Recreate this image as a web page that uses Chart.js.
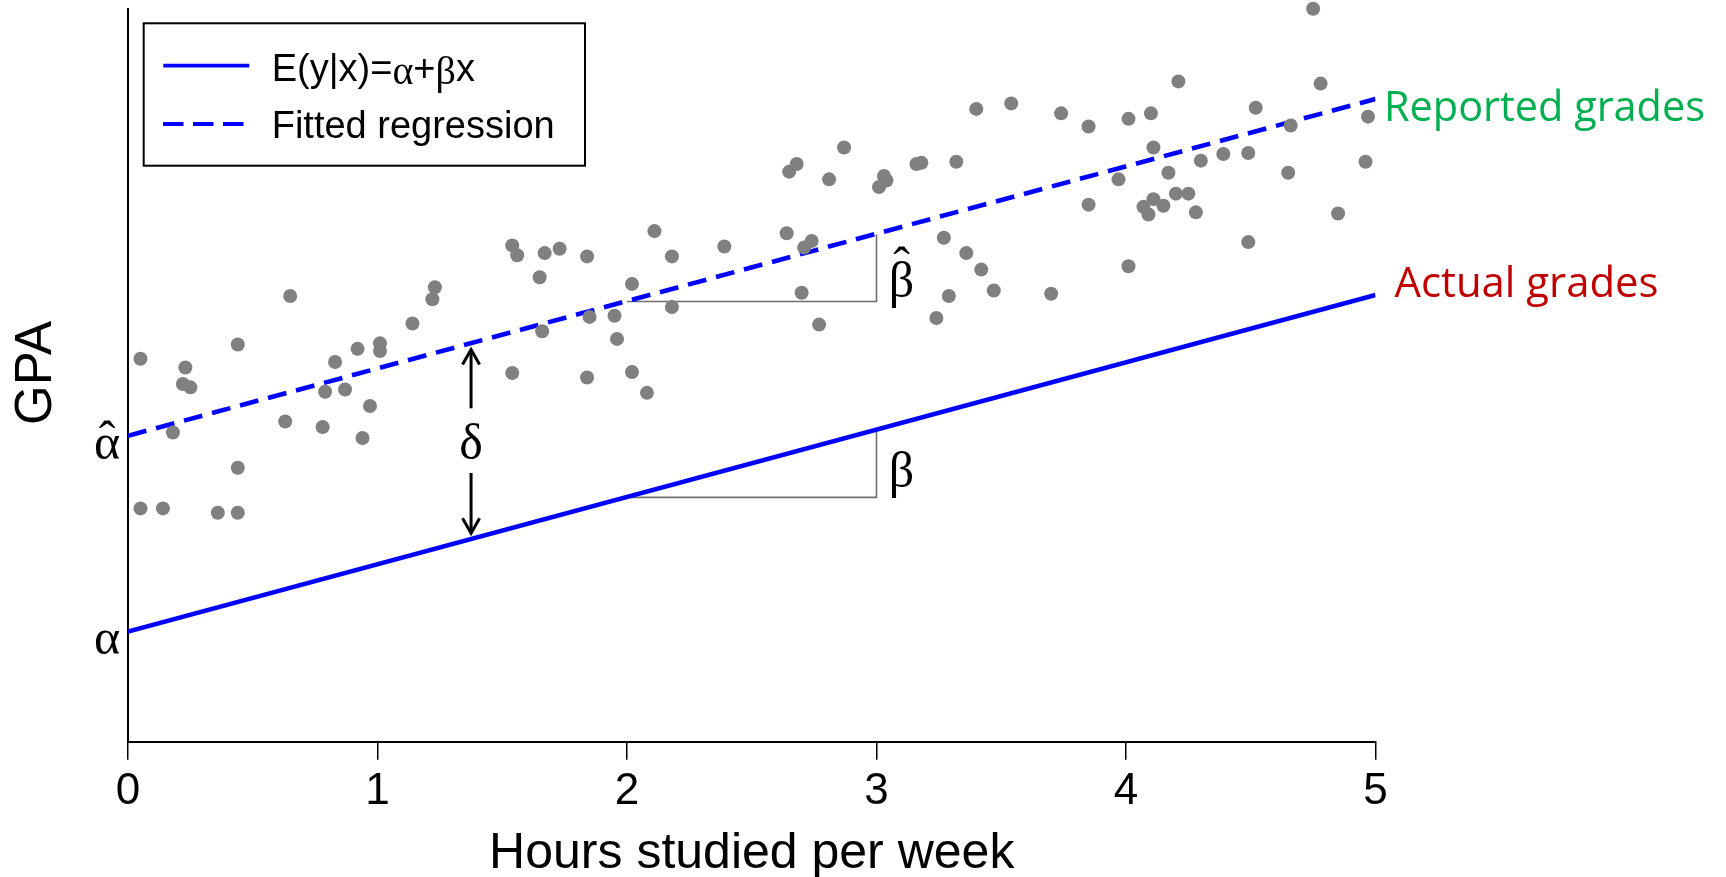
<!DOCTYPE html>
<html><head><meta charset="utf-8">
<script src="https://cdn.jsdelivr.net/npm/chart.js@4/dist/chart.umd.min.js"></script>
<style>html,body{margin:0;padding:0;background:#fff;overflow:hidden}canvas{display:block}</style>
</head><body>
<canvas id="c" width="1726" height="877"></canvas>
<script>
// Hours studied per week (x) and reported GPA (arbitrary y units, axis has no ticks)
const hoursStudied = [0.05,0.05,0.14,0.18,0.23,0.22,0.25,0.36,0.44,0.44,0.44,0.63,0.65,0.78,0.79,0.83,0.87,0.92,0.94,0.97,
  1.01,1.01,1.14,1.23,1.22,1.54,1.56,1.54,1.65,1.67,1.66,1.73,1.84,1.85,1.84,1.95,1.96,2.02,2.02,2.08,
  2.11,2.18,2.18,2.39,2.64,2.65,2.68,2.70,2.71,2.74,2.77,2.81,2.87,3.01,3.03,3.04,3.16,3.18,3.24,3.27,
  3.29,3.32,3.36,3.40,3.42,3.47,3.54,3.70,3.74,3.85,3.85,3.97,4.01,4.01,4.07,4.10,4.09,4.11,4.11,4.15,
  4.17,4.20,4.21,4.25,4.28,4.30,4.39,4.49,4.49,4.52,4.65,4.66,4.75,4.78,4.85,4.97,4.96];
const reportedGpa = [3.48,2.12,2.12,2.81,3.40,3.25,3.22,2.08,2.08,2.49,3.61,2.91,4.05,2.86,3.18,3.45,3.20,3.57,2.76,3.05,
  3.62,3.55,3.80,4.13,4.02,4.51,4.42,3.35,4.22,4.44,3.73,4.48,4.41,3.86,3.31,3.87,3.66,4.16,3.36,3.17,
  4.64,3.95,4.41,4.50,4.62,5.18,5.25,4.08,4.49,4.55,3.79,5.11,5.40,5.04,5.14,5.10,5.25,5.26,3.85,4.58,
  4.05,5.27,4.44,5.75,4.29,4.10,5.80,4.07,5.71,5.59,4.88,5.11,5.66,4.32,4.86,5.71,4.79,5.40,4.93,4.87,
  5.17,4.98,6.00,4.98,4.81,5.28,5.34,4.54,5.35,5.76,5.17,5.60,6.66,5.98,4.80,5.68,5.27];
// Regression lines (endpoints at x = 0 and x = 5)
const lineX = [0, 5];
const actualGpaLine = [1.00, 4.06];
const fittedGpaLine = [2.78, 5.84];
// Slope triangles
const triangleX = [2, 3, 3];
const actualTriangleY = [2.22, 2.22, 2.84];
const fittedTriangleY = [4.00, 4.00, 4.61];
const xTickLabels = ['0','1','2','3','4','5'];

const SANS = '"Liberation Sans", Arial, sans-serif';
const SERIF = '"Liberation Serif", "Times New Roman", serif';

function arrow(c, x, y0, y1) { // shaft from y0 to tip y1
  const dir = y1 > y0 ? 1 : -1;
  c.beginPath(); c.moveTo(x, y0); c.lineTo(x, y1 - dir * 2); c.stroke();
  c.beginPath(); c.moveTo(x - 8.5, y1 - dir * 15); c.lineTo(x, y1); c.lineTo(x + 8.5, y1 - dir * 15); c.stroke();
}

const annot = {
  id: 'annot',
  afterDraw(chart) {
    const c = chart.ctx, xs = chart.scales.x, ys = chart.scales.y, a = chart.chartArea;
    c.save();
    c.fillStyle = '#000'; c.strokeStyle = '#000';
    // Legend box
    c.lineWidth = 2; c.strokeRect(143.7, 23.3, 441.3, 142.4);
    c.strokeStyle = '#0000ff'; c.lineWidth = 3.8; c.lineCap = 'butt';
    c.beginPath(); c.moveTo(163.3, 65.7); c.lineTo(249.3, 65.7); c.stroke();
    c.setLineDash([20.5, 9.5]);
    c.beginPath(); c.moveTo(163, 124); c.lineTo(243.5, 124); c.stroke();
    c.setLineDash([]);
    c.fillStyle = '#000'; c.textAlign = 'left'; c.textBaseline = 'alphabetic';
    let lx = 271.7;
    const parts = [['E(y|x)=', SANS, 38, 0], ['\u03b1', SERIF, 40, 3], ['+', SANS, 38, 0], ['\u03b2', SERIF, 40, 3], ['x', SANS, 38, 0]];
    for (const [t, f, sz, dy] of parts) { c.font = sz + 'px ' + f; c.fillText(t, lx, 81 + dy); lx += c.measureText(t).width; }
    c.font = '38px ' + SANS; c.fillText('Fitted regression', 271.7, 138.3);

    // Axis titles
    c.font = '50px ' + SANS; c.textAlign = 'center';
    c.fillText('Hours studied per week', (a.left + a.right) / 2, 868);
    c.font = '51px ' + SANS;
    c.save(); c.translate(50.5, 373); c.rotate(-Math.PI / 2); c.fillText('GPA', 0, 0); c.restore();

    // Greek annotations
    c.font = '50px ' + SERIF; c.textAlign = 'center';
    const ax = a.left - 21;
    c.fillText('\u03b1', ax, ys.getPixelForValue(actualGpaLine[0]) + 22);
    const ahY = ys.getPixelForValue(fittedGpaLine[0]) + 23;
    c.fillText('\u03b1', ax, ahY); c.fillText('\u02c6', ax, ahY - 3);
    const bx = xs.getPixelForValue(3) + 25;
    c.fillText('\u03b2', bx, 487);
    c.fillText('\u03b2', bx, 297); c.fillText('\u02c6', bx, 297 - 15);
    const dx = xs.getPixelForValue(1.375);
    c.fillText('\u03b4', dx, 459);
    c.lineWidth = 3; c.strokeStyle = '#000';
    arrow(c, dx, 408.3, 349.5);
    arrow(c, dx, 473, 533.3);

    // Curve labels
    c.textAlign = 'left';
    function fitText(t, w, x, y, col) {
      c.font = '100px "Open Sans"';
      const s = 100 * w / c.measureText(t).width;
      c.font = s.toFixed(2) + 'px "Open Sans"'; c.fillStyle = col; c.fillText(t, x, y);
    }
    fitText('Reported grades', 321, 1384, 120.5, '#00b050');
    fitText('Actual grades', 264, 1394.5, 297, '#c00000');
    c.restore();
  }
};

const pts = hoursStudied.map((x, i) => ({ x, y: reportedGpa[i] }));
const mk = (ys) => lineX.map((x, i) => ({ x, y: ys[i] }));
const tri = (ys) => triangleX.map((x, i) => ({ x, y: ys[i] }));

new Chart(document.getElementById('c'), {
  type: 'scatter',
  data: { datasets: [
    { label: 'Reported GPA', data: pts, pointRadius: 7, pointHoverRadius: 7, backgroundColor: '#808080', borderWidth: 0, clip: false },
    { label: 'Fitted regression', data: mk(fittedGpaLine), showLine: true, borderColor: '#0000ff', borderWidth: 4.6, borderDash: [19, 10], pointRadius: 0, fill: false },
    { label: 'E(y|x)', data: mk(actualGpaLine), showLine: true, borderColor: '#0000ff', borderWidth: 4.6, pointRadius: 0, fill: false },
    { label: 'beta hat', data: tri(fittedTriangleY), showLine: true, borderColor: '#6d6d6d', borderWidth: 1.6, pointRadius: 0, fill: false },
    { label: 'beta', data: tri(actualTriangleY), showLine: true, borderColor: '#6d6d6d', borderWidth: 1.6, pointRadius: 0, fill: false }
  ]},
  options: {
    responsive: false, animation: false, devicePixelRatio: 1, events: [],
    layout: { padding: { left: 0, top: 9, right: 350.5, bottom: 0 } },
    plugins: { legend: { display: false }, tooltip: { enabled: false } },
    scales: {
      x: { type: 'linear', min: 0, max: 5, position: 'bottom',
        ticks: { stepSize: 1, color: '#000', font: { family: SANS, size: 44 }, padding: 6, maxRotation: 0, autoSkip: false,
          callback: (v) => xTickLabels[v] },
        grid: { drawOnChartArea: false, drawTicks: true, tickLength: 18, color: '#000', lineWidth: 1.5 },
        border: { display: true, color: '#000', width: 2 },
        afterFit: (s) => { s.height = 135.3; } },
      y: { type: 'linear', min: 0, max: 6.658, ticks: { display: false }, grid: { display: false },
        border: { display: true, color: '#000', width: 2 },
        afterFit: (s) => { s.width = 128; } }
    }
  },
  plugins: [annot]
});
</script>
</body></html>
